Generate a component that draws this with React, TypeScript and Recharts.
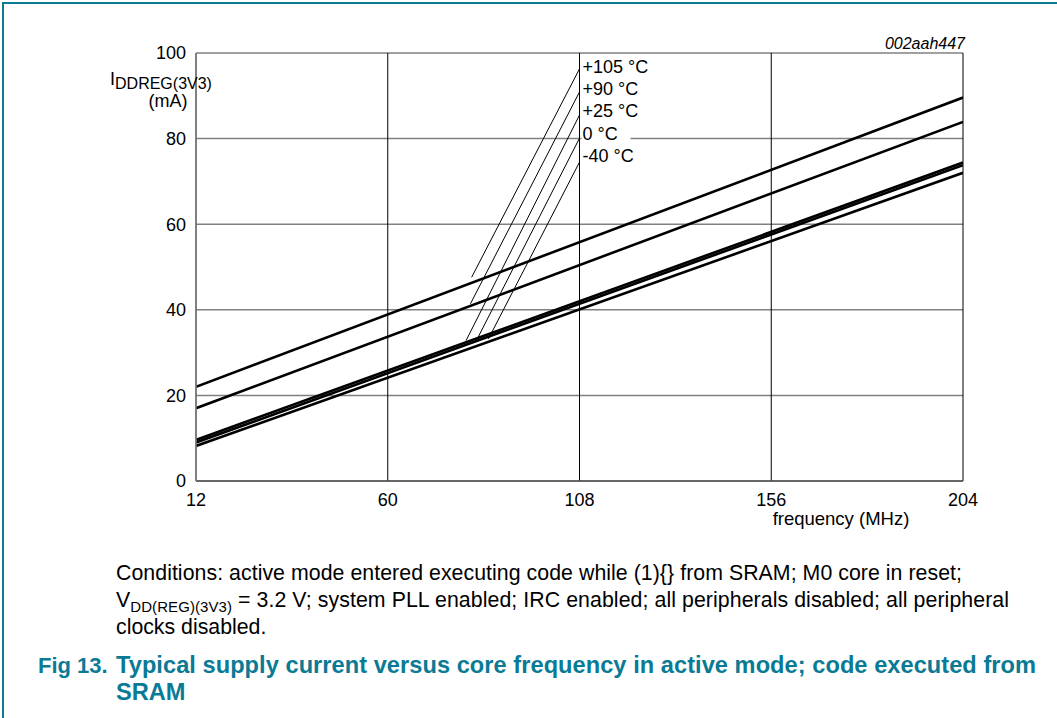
import React from 'react';
import { LineChart, Line, XAxis, YAxis, CartesianGrid, ReferenceDot } from 'recharts';

// frequency (MHz) at the two ends of each straight curve
const freqs = [12, 204];
// supply current (mA) per temperature, read at 12 and 204 MHz
const i105 = [22.0, 89.6];
const i90 = [17.0, 83.9];
const i25 = [9.6, 74.4];
const i0 = [9.0, 73.8];
const iM40 = [8.2, 72.0];

// leader lines from each curve to its temperature label
const tempLabels = ['+105 °C', '+90 °C', '+25 °C', '0 °C', '-40 °C'];
const leaderFreqLow = [81.0, 80.7, 79.6, 82.3, 85.2];
const leaderCurrentLow = [47.6, 41.4, 32.8, 33.0, 33.2];
const labelFreq = 108;
const leaderCurrentTop = [96.3, 90.9, 85.5, 80.1, 74.5];
const labelCurrent = [96.7, 91.6, 86.4, 81.1, 75.9];

const xTicks = [12, 60, 108, 156, 204];
const yTicks = [0, 20, 40, 60, 80, 100];

const FONT = 'Arial, "Liberation Sans", Helvetica, sans-serif';
const TEAL = '#0a7a95';

const curves = [i105, i90, i25, i0, iM40].map((vals, k) => ({
  key: 'c' + k,
  data: freqs.map((f, j) => ({ f, v: vals[j] })),
}));

const leaders = tempLabels.map((label, k) => ({
  key: 'l' + k,
  label,
  data: [
    { f: leaderFreqLow[k], v: leaderCurrentLow[k] },
    { f: labelFreq, v: leaderCurrentTop[k] },
  ],
}));

const TempLabel = (props: any) => {
  const { viewBox, value } = props;
  const x = viewBox.x + 3;
  const y = viewBox.y;
  return (
    <g>
      {value === '0 °C' && <rect x={x - 1} y={y - 8} width={49} height={15} fill="#fff" />}
      <text x={x} y={y + 6} fontSize={18} fontFamily={FONT} fill="#000">
        {value}
      </text>
    </g>
  );
};

export default function App() {
  return (
    <div style={{ position: 'absolute', left: 0, top: 0, width: 1057, height: 718, background: '#fff', fontFamily: FONT }}>
      {/* figure frame */}
      <div style={{ position: 'absolute', left: 2, top: 2, right: 0, bottom: 0, borderTop: `2px solid ${TEAL}`, borderLeft: `2px solid ${TEAL}` }} />

      <LineChart
        width={1057}
        height={540}
        margin={{ top: 53, right: 94, bottom: 29, left: 136 }}
        style={{ position: 'absolute', left: 0, top: 0 }}
      >
        <CartesianGrid horizontal={true} vertical={false} stroke="#808080" strokeWidth={1.5} />
        <CartesianGrid horizontal={false} vertical={true} stroke="#000" strokeWidth={1} />
        <XAxis
          dataKey="f"
          type="number"
          domain={[12, 204]}
          ticks={xTicks}
          allowDataOverflow
          height={30}
          tickLine={false}
          tickMargin={6}
          axisLine={{ stroke: '#555', strokeWidth: 1.5 }}
          tick={{ fontSize: 18, fontFamily: FONT, fill: '#000' }}
        />
        <YAxis
          dataKey="v"
          type="number"
          domain={[0, 100]}
          ticks={yTicks}
          allowDataOverflow
          width={60}
          tickLine={false}
          tickMargin={4}
          axisLine={{ stroke: '#808080', strokeWidth: 1.5 }}
          tick={{ fontSize: 18, fontFamily: FONT, fill: '#000' }}
        />
        {leaders.map((l) => (
          <Line
            key={l.key}
            data={l.data}
            dataKey="v"
            type="linear"
            stroke="#000"
            strokeWidth={1}
            dot={false}
            activeDot={false}
            isAnimationActive={false}
          />
        ))}
        {curves.map((c) => (
          <Line
            key={c.key}
            data={c.data}
            dataKey="v"
            type="linear"
            stroke="#000"
            strokeWidth={2.6}
            dot={false}
            activeDot={false}
            isAnimationActive={false}
          />
        ))}
        {leaders.map((l, k) => (
          <ReferenceDot
            key={'d' + k}
            x={labelFreq}
            y={labelCurrent[k]}
            r={0}
            stroke="none"
            fill="none"
            label={<TempLabel value={l.label} />}
          />
        ))}
      </LineChart>

      <svg width={1057} height={718} style={{ position: 'absolute', left: 0, top: 0, pointerEvents: 'none' }}>
        <text x={965} y={49} textAnchor="end" fontSize={16} fontStyle="italic" fontFamily={FONT} fill="#000">
          002aah447
        </text>
        {/* y-axis title */}
        <text x={110} y={85} fontSize={18} fontFamily={FONT} fill="#000">
          I<tspan fontSize={16} dy={4}>DDREG(3V3)</tspan>
        </text>
        <text x={168} y={107} textAnchor="middle" fontSize={18} fontFamily={FONT} fill="#000">
          (mA)
        </text>
        {/* x-axis title */}
        <text x={841} y={525} textAnchor="middle" fontSize={18.5} fontFamily={FONT} fill="#000">
          frequency (MHz)
        </text>

        {/* conditions */}
        <text x={116} y={580} fontSize={21.3} fontFamily={FONT} fill="#000" textLength={846} lengthAdjust="spacing">
          Conditions: active mode entered executing code while (1){'{}'} from SRAM; M0 core in reset;
        </text>
        <text x={116} y={607} fontSize={21.3} fontFamily={FONT} fill="#000" textLength={893} lengthAdjust="spacing">
          V<tspan fontSize={15} dy={5}>DD(REG)(3V3)</tspan>
          <tspan dy={-5}> = 3.2 V; system PLL enabled; IRC enabled; all peripherals disabled; all peripheral</tspan>
        </text>
        <text x={116} y={634} fontSize={21.3} fontFamily={FONT} fill="#000">
          clocks disabled.
        </text>

        {/* figure title */}
        <text x={38} y={673} fontSize={22} fontWeight="bold" fontFamily={FONT} fill={TEAL}>
          Fig 13.
        </text>
        <text x={116} y={673} fontSize={23.6} fontWeight="bold" fontFamily={FONT} fill={TEAL} textLength={920} lengthAdjust="spacing">
          Typical supply current versus core frequency in active mode; code executed from
        </text>
        <text x={116} y={700} fontSize={23.6} fontWeight="bold" fontFamily={FONT} fill={TEAL}>
          SRAM
        </text>
      </svg>
    </div>
  );
}
